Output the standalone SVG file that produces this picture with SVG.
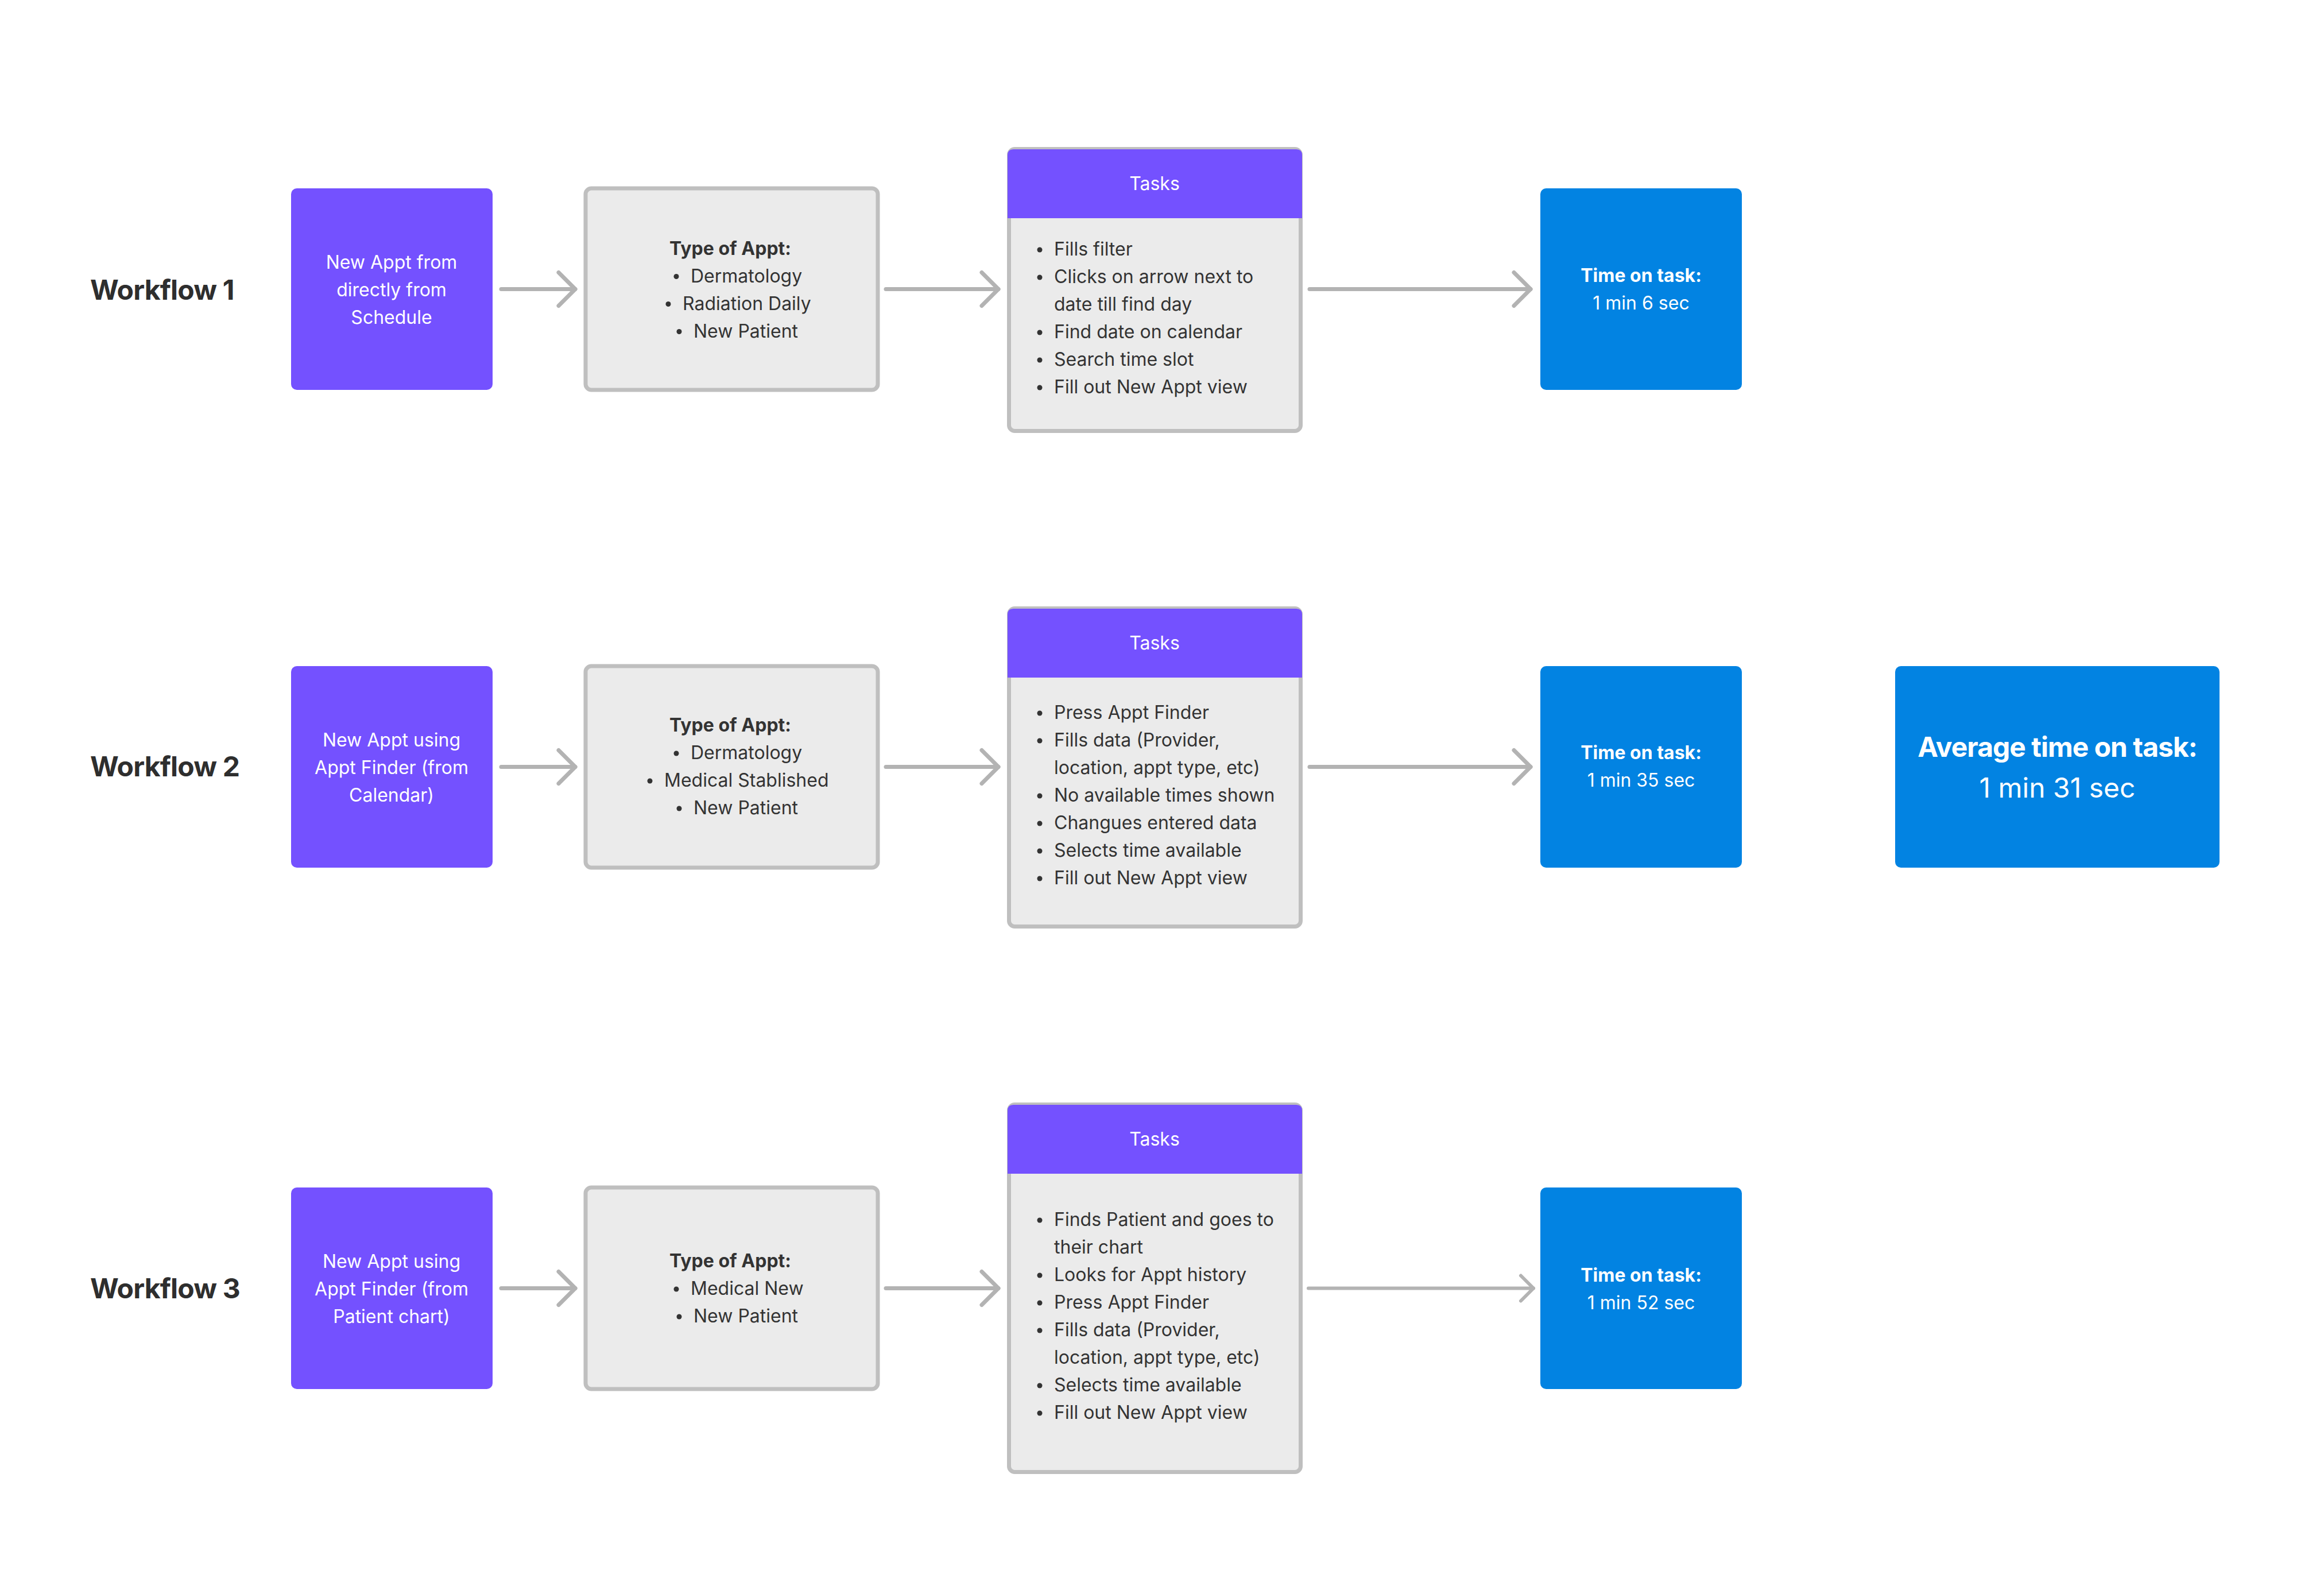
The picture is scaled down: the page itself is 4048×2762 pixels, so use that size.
<svg xmlns="http://www.w3.org/2000/svg" width="4048" height="2762" viewBox="0 0 4048 2762">
<style>
text{font-family:Inter,"Noto Sans","Liberation Sans",sans-serif;font-size:32px}
.lbl{font-size:48px;font-weight:700;fill:#2e2e2e;letter-spacing:-0.8px}
.w{fill:#ffffff}
.c{text-anchor:middle}
.b{font-weight:700}
.d{fill:#333333}
.pur{fill:#7451ff}
.blu{fill:#0283e2}
.gry{fill:#ebebeb;stroke:#bfbfbf;stroke-width:7}
.con{stroke:#b3b3b3;stroke-width:7;fill:none;stroke-linecap:round}
.dot{fill:#333333}
.big{font-size:48px}
.tight{letter-spacing:-1px}
</style>
<defs>
<marker id="ah" markerUnits="userSpaceOnUse" markerWidth="80" markerHeight="80" viewBox="-40 -40 80 80" refX="0" refY="0" orient="auto" overflow="visible">
<path d="M-29,-29 L0,0 L-29,29" fill="none" stroke="#b3b3b3" stroke-width="7" stroke-linecap="round" stroke-linejoin="round"/>
</marker>
<marker id="ahs" markerUnits="userSpaceOnUse" markerWidth="60" markerHeight="60" viewBox="-30 -30 60 60" refX="0" refY="0" orient="auto" overflow="visible">
<path d="M-22,-22 L0,0 L-22,22" fill="none" stroke="#b3b3b3" stroke-width="6" stroke-linecap="round" stroke-linejoin="round"/>
</marker>
</defs>
<rect width="4048" height="2762" fill="#ffffff"/>

<g id="connectors">
<line class="con" x1="873" y1="503.5" x2="1002" y2="503.5" marker-end="url(#ah)"/>
<line class="con" x1="1543" y1="503.5" x2="1739" y2="503.5" marker-end="url(#ah)"/>
<line class="con" x1="2281" y1="503.5" x2="2666" y2="503.5" marker-end="url(#ah)"/>
<line class="con" x1="873" y1="1335.5" x2="1002" y2="1335.5" marker-end="url(#ah)"/>
<line class="con" x1="1543" y1="1335.5" x2="1739" y2="1335.5" marker-end="url(#ah)"/>
<line class="con" x1="2281" y1="1335.5" x2="2666" y2="1335.5" marker-end="url(#ah)"/>
<line class="con" x1="873" y1="2243.5" x2="1002" y2="2243.5" marker-end="url(#ah)"/>
<line class="con" x1="1543" y1="2243.5" x2="1739" y2="2243.5" marker-end="url(#ah)"/>
<line class="con" style="stroke-width:6" x1="2279" y1="2243.5" x2="2671" y2="2243.5" marker-end="url(#ahs)"/>
</g>

<!-- Row 1 -->
<g id="label1"><text class="lbl" x="157" y="522">Workflow 1</text></g>
<g id="start1">
<rect class="pur" x="507" y="328" width="351" height="351" rx="10"/>
<text class="w c" x="682" y="467.5">New Appt from</text>
<text class="w c" x="682" y="515.5">directly from</text>
<text class="w c" x="682" y="563.5">Schedule</text>
</g>
<g id="type1">
<rect class="gry" x="1020" y="328" width="509" height="351" rx="10"/>
<text class="d b c" x="1272" y="443.5">Type of Appt:</text>
<circle class="dot" cx="1178" cy="481.5" r="4.5"/><text class="d" x="1203" y="491.5">Dermatology</text>
<circle class="dot" cx="1164" cy="529.5" r="4.5"/><text class="d" x="1189" y="539.5">Radiation Daily</text>
<circle class="dot" cx="1183" cy="577.5" r="4.5"/><text class="d" x="1208" y="587.5">New Patient</text>
</g>
<g id="tasks1">
<rect class="gry" x="1757.5" y="259.5" width="508" height="491" rx="10"/>
<path class="pur" d="M1755,380 V270 Q1755,260 1765,260 H2258 Q2268,260 2268,270 V380 Z"/>
<text class="w c" x="2011" y="331">Tasks</text>
<circle class="dot" cx="1811" cy="435" r="4.5"/><text class="d" x="1836" y="445">Fills filter</text>
<circle class="dot" cx="1811" cy="483" r="4.5"/><text class="d" x="1836" y="493">Clicks on arrow next to</text>
<text class="d" x="1836" y="541">date till find day</text>
<circle class="dot" cx="1811" cy="579" r="4.5"/><text class="d" x="1836" y="589">Find date on calendar</text>
<circle class="dot" cx="1811" cy="627" r="4.5"/><text class="d" x="1836" y="637">Search time slot</text>
<circle class="dot" cx="1811" cy="675" r="4.5"/><text class="d" x="1836" y="685">Fill out New Appt view</text>
</g>
<g id="time1">
<rect class="blu" x="2683" y="328" width="351" height="351" rx="10"/>
<text class="w b c" x="2858.5" y="491">Time on task:</text>
<text class="w c" x="2858.5" y="539">1 min 6 sec</text>
</g>

<!-- Row 2 -->
<g id="label2"><text class="lbl" x="157" y="1352">Workflow 2</text></g>
<g id="start2">
<rect class="pur" x="507" y="1160" width="351" height="351" rx="10"/>
<text class="w c" x="682" y="1299.5">New Appt using</text>
<text class="w c" x="682" y="1347.5">Appt Finder (from</text>
<text class="w c" x="682" y="1395.5">Calendar)</text>
</g>
<g id="type2">
<rect class="gry" x="1020" y="1160" width="509" height="351" rx="10"/>
<text class="d b c" x="1272" y="1274">Type of Appt:</text>
<circle class="dot" cx="1178" cy="1312" r="4.5"/><text class="d" x="1203" y="1322">Dermatology</text>
<circle class="dot" cx="1132" cy="1360" r="4.5"/><text class="d" x="1157" y="1370">Medical Stablished</text>
<circle class="dot" cx="1183" cy="1408" r="4.5"/><text class="d" x="1208" y="1418">New Patient</text>
</g>
<g id="tasks2">
<rect class="gry" x="1757.5" y="1059.5" width="508" height="554" rx="10"/>
<path class="pur" d="M1755,1180 V1070 Q1755,1060 1765,1060 H2258 Q2268,1060 2268,1070 V1180 Z"/>
<text class="w c" x="2011" y="1131">Tasks</text>
<circle class="dot" cx="1811" cy="1242" r="4.5"/><text class="d" x="1836" y="1252">Press Appt Finder</text>
<circle class="dot" cx="1811" cy="1290" r="4.5"/><text class="d" x="1836" y="1300">Fills data (Provider,</text>
<text class="d" x="1836" y="1348">location, appt type, etc)</text>
<circle class="dot" cx="1811" cy="1386" r="4.5"/><text class="d" x="1836" y="1396">No available times shown</text>
<circle class="dot" cx="1811" cy="1434" r="4.5"/><text class="d" x="1836" y="1444">Changues entered data</text>
<circle class="dot" cx="1811" cy="1482" r="4.5"/><text class="d" x="1836" y="1492">Selects time available</text>
<circle class="dot" cx="1811" cy="1530" r="4.5"/><text class="d" x="1836" y="1540">Fill out New Appt view</text>
</g>
<g id="time2">
<rect class="blu" x="2683" y="1160" width="351" height="351" rx="10"/>
<text class="w b c" x="2858.5" y="1322">Time on task:</text>
<text class="w c" x="2858.5" y="1370">1 min 35 sec</text>
</g>
<g id="average">
<rect class="blu" x="3301" y="1160" width="565" height="351" rx="10"/>
<text class="w b c big tight" x="3583.5" y="1318">Average time on task:</text>
<text class="w c big" x="3583.5" y="1389">1 min 31 sec</text>
</g>

<!-- Row 3 -->
<g id="label3"><text class="lbl" x="157" y="2261">Workflow 3</text></g>
<g id="start3">
<rect class="pur" x="507" y="2068" width="351" height="351" rx="10"/>
<text class="w c" x="682" y="2207.5">New Appt using</text>
<text class="w c" x="682" y="2255.5">Appt Finder (from</text>
<text class="w c" x="682" y="2303.5">Patient chart)</text>
</g>
<g id="type3">
<rect class="gry" x="1020" y="2068" width="509" height="351" rx="10"/>
<text class="d b c" x="1272" y="2207">Type of Appt:</text>
<circle class="dot" cx="1178" cy="2245" r="4.5"/><text class="d" x="1203" y="2255">Medical New</text>
<circle class="dot" cx="1183" cy="2293" r="4.5"/><text class="d" x="1208" y="2303">New Patient</text>
</g>
<g id="tasks3">
<rect class="gry" x="1757.5" y="1923.5" width="508" height="640" rx="10"/>
<path class="pur" d="M1755,2044 V1934 Q1755,1924 1765,1924 H2258 Q2268,1924 2268,1934 V2044 Z"/>
<text class="w c" x="2011" y="1995">Tasks</text>
<circle class="dot" cx="1811" cy="2125" r="4.5"/><text class="d" x="1836" y="2135">Finds Patient and goes to</text>
<text class="d" x="1836" y="2183">their chart</text>
<circle class="dot" cx="1811" cy="2221" r="4.5"/><text class="d" x="1836" y="2231">Looks for Appt history</text>
<circle class="dot" cx="1811" cy="2269" r="4.5"/><text class="d" x="1836" y="2279">Press Appt Finder</text>
<circle class="dot" cx="1811" cy="2317" r="4.5"/><text class="d" x="1836" y="2327">Fills data (Provider,</text>
<text class="d" x="1836" y="2375">location, appt type, etc)</text>
<circle class="dot" cx="1811" cy="2413" r="4.5"/><text class="d" x="1836" y="2423">Selects time available</text>
<circle class="dot" cx="1811" cy="2461" r="4.5"/><text class="d" x="1836" y="2471">Fill out New Appt view</text>
</g>
<g id="time3">
<rect class="blu" x="2683" y="2068" width="351" height="351" rx="10"/>
<text class="w b c" x="2858.5" y="2232">Time on task:</text>
<text class="w c" x="2858.5" y="2280">1 min 52 sec</text>
</g>
</svg>
